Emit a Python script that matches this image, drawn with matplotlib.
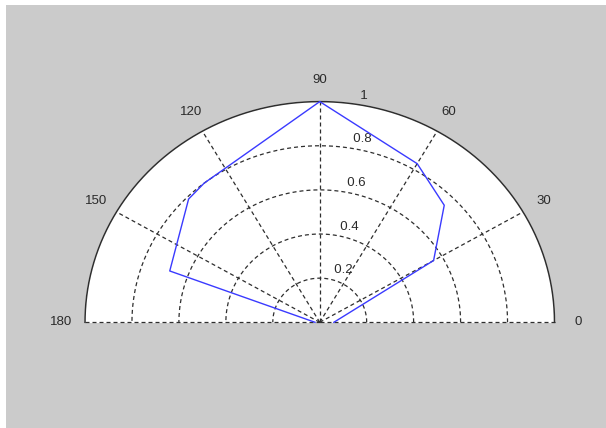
import numpy as np
import matplotlib.pyplot as plt
from matplotlib.patches import Rectangle

# Polar trace (angles in degrees, radius normalised to 1)
theta_deg = [0, 30, 45, 60, 90, 128, 135, 160, 180]
radius = [0.06, 0.56, 0.75, 0.83, 1.0, 0.80, 0.79, 0.68, 0.02]

# Grid rings and spokes
ring_values = [0.2, 0.4, 0.6, 0.8, 1.0]
ring_labels = ['0.2', '0.4', '0.6', '0.8', '1']
spoke_angles = [0, 30, 60, 90, 120, 150, 180]
spoke_labels = ['0', '30', '60', '90', '120', '150', '180']

W, H = 606, 428
plt.rcParams['font.family'] = ['Liberation Sans', 'DejaVu Sans']

fig = plt.figure(figsize=(W / 100, H / 100), dpi=100, facecolor='white')
fig.add_artist(Rectangle((6 / W, 0), 1, (H - 5) / H, transform=fig.transFigure,
                         facecolor='#cbcbcb', edgecolor='none', zorder=-10))

ax = fig.add_axes([85 / W, (H - 322.3) / H, 469.5 / W, 220.7 / H])
ax.set_xlim(-1, 1)
ax.set_ylim(0, 1)
ax.axis('off')

grid_color = '#2e2e2e'
dash = (0, (3.2, 2.4))
t = np.linspace(0, np.pi, 500)

# white half-disc
ax.fill(np.cos(t), np.sin(t), color='white', zorder=1, clip_on=False)

# dashed rings
for r in ring_values[:-1]:
    ax.plot(r * np.cos(t), r * np.sin(t), ls=dash, color=grid_color,
            lw=0.9, zorder=2, clip_on=False)

# dashed spokes
for a in spoke_angles:
    ar = np.deg2rad(a)
    ax.plot([0, np.cos(ar)], [0, np.sin(ar)], ls=dash, color=grid_color,
            lw=0.9, zorder=2, clip_on=False)

# solid outer boundary
ax.plot(np.cos(t), np.sin(t), color=grid_color, lw=1.1, zorder=3, clip_on=False)

# angle labels
for a, lab in zip(spoke_angles, spoke_labels):
    ar = np.deg2rad(a)
    ax.text(1.1 * np.cos(ar), 1.1 * np.sin(ar), lab, ha='center', va='center',
            fontsize=9.5, color='#2a2a2a', clip_on=False)

# radial labels
c82, s82 = np.cos(np.deg2rad(82)), np.sin(np.deg2rad(82))
for r, lab in zip(ring_values, ring_labels):
    ax.text((r + 0.01) * c82, (r + 0.01) * s82, '  ' + lab, ha='left',
            va='bottom', fontsize=9.5, color='#2a2a2a', zorder=4, clip_on=False)

# data trace
th = np.deg2rad(theta_deg)
rr = np.array(radius)
ax.plot(rr * np.cos(th), rr * np.sin(th), color='#3a3aff', lw=1.0,
        zorder=5, clip_on=False)

fig.savefig('out.png', dpi=100, facecolor=fig.get_facecolor())
